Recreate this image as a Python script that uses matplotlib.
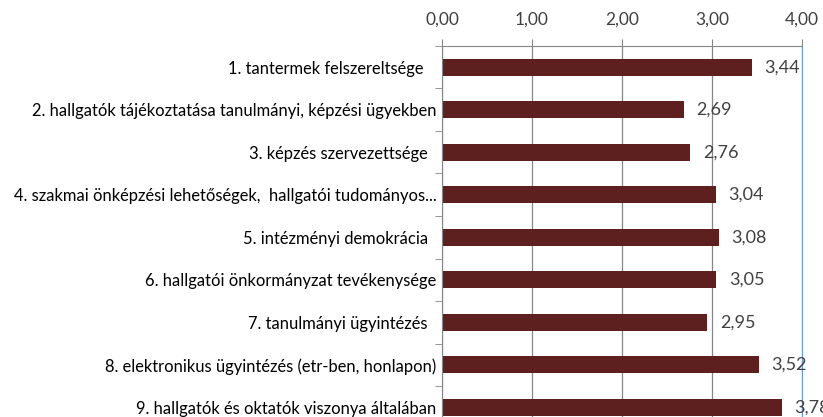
import numpy as np
import matplotlib.pyplot as plt

# Értékelési szempontok és átlagpontszámok
categories = [
    "1. tantermek felszereltsége   ",
    "2. hallgatók tájékoztatása tanulmányi, képzési ügyekben",
    "3. képzés szervezettsége  ",
    "4. szakmai önképzési lehetőségek,  hallgatói tudományos...",
    "5. intézményi demokrácia  ",
    "6. hallgatói önkormányzat tevékenysége",
    "7. tanulmányi ügyintézés  ",
    "8. elektronikus ügyintézés (etr-ben, honlapon)",
    "9. hallgatók és oktatók viszonya általában",
]
scores = [3.44, 2.69, 2.76, 3.04, 3.08, 3.05, 2.95, 3.52, 3.78]
xticks = [0, 1, 2, 3, 4]

plt.rcParams['font.family'] = ['Lato', 'DejaVu Sans']

fig = plt.figure(figsize=(8.23, 4.17), dpi=100)
ax = fig.add_axes([0.537, -0.0276, 0.4374, 0.9173])

y = np.arange(len(categories))
ax.barh(y, scores, height=0.4, color='#5E1F1F', zorder=2)

for yi, v in zip(y, scores):
    ax.annotate(f"{v:.2f}".replace('.', ','), (v, yi), xytext=(9, 0),
                textcoords='offset points', va='center', ha='left',
                fontsize=13, color='#404040', zorder=4)

ax.set_xlim(0, 4)
ax.set_ylim(len(categories) - 0.5, -0.5)
ax.xaxis.tick_top()
ax.set_xticks(xticks)
ax.set_xticklabels([f"{t:.2f}".replace('.', ',') for t in xticks],
                   fontsize=12.5, color='#404040')
ax.set_yticks(y)
ax.set_yticklabels(categories, fontsize=11.9, color='black')
ax.set_yticks(np.arange(len(categories) + 1) - 0.5, minor=True)

ax.tick_params(axis='y', which='major', length=0, pad=4)
ax.tick_params(axis='y', which='minor', length=5, color='#868686')
ax.tick_params(axis='x', length=5, color='#868686', pad=8)

ax.grid(axis='x', color='#868686', linewidth=0.9, zorder=1)
for side in ['top', 'left']:
    ax.spines[side].set_color('#868686')
ax.spines['right'].set_color('#6A9BD8')
ax.spines['bottom'].set_visible(False)

fig.savefig('out.png', dpi=100)
